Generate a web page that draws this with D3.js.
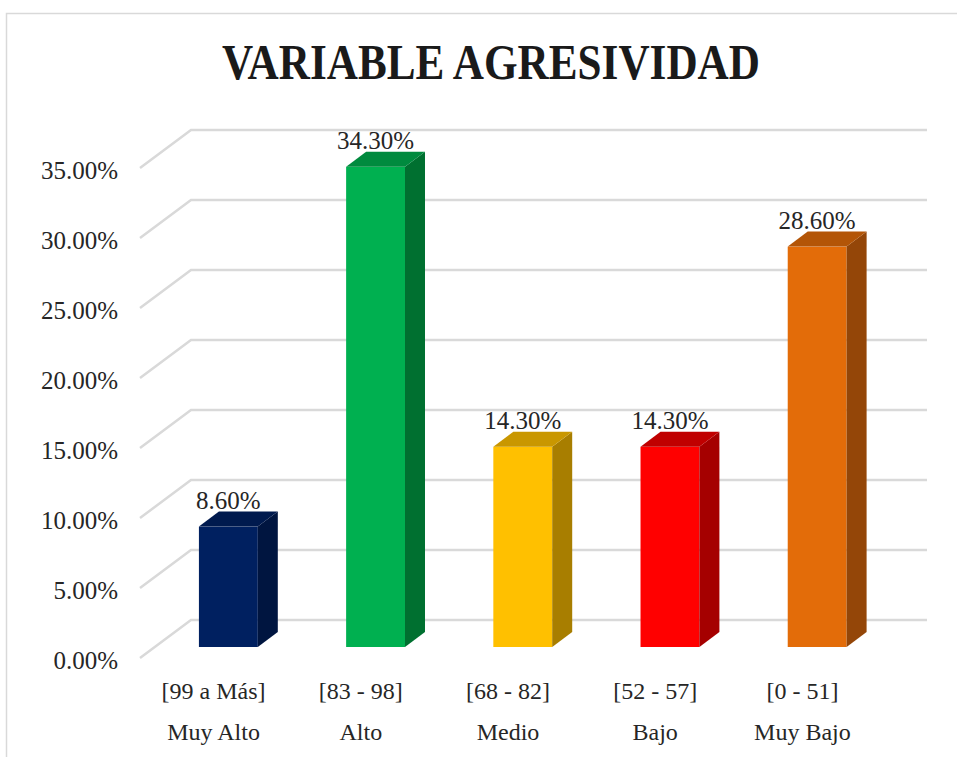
<!DOCTYPE html>
<html>
<head>
<meta charset="utf-8">
<script src="https://cdn.jsdelivr.net/npm/d3@7"></script>
<style>
  html, body { margin: 0; padding: 0; background: #fff; }
  svg { display: block; font-family: "Liberation Serif", "DejaVu Serif", serif; }
</style>
</head>
<body>
<svg id="chart" width="957" height="757"></svg>
<script>
// data
const ranges = ["[99 a Más]", "[83 - 98]", "[68 - 82]", "[52 - 57]", "[0 - 51]"];
const levels = ["Muy Alto", "Alto", "Medio", "Bajo", "Muy Bajo"];
const values = [0.086, 0.343, 0.143, 0.143, 0.286];
const yTicks = [0, 0.05, 0.10, 0.15, 0.20, 0.25, 0.30, 0.35];
const frontColors = ["#002060", "#00B050", "#FFC000", "#FF0000", "#E36C09"];
const topColors = ["#001A4E", "#008A3E", "#C99700", "#C00000", "#B35507"];
const sideColors = ["#001540", "#007030", "#A87E00", "#A50000", "#944608"];

// layout of the 3d box
const FRONT = { left: 140, right: 876, bottom: 658, top: 168 };
const WALL_DX = 51, WALL_DY = 38;   // depth of floor
const BAR_Z = 11;                   // bar front sits this far back (in y px)
const BAR_DX = 20, BAR_DY = 15;     // depth of each bar

const svg = d3.select("#chart");

// outer frame
svg.append("path")
  .attr("d", "M6.5,757 L6.5,13.5 L957,13.5")
  .attr("fill", "none")
  .attr("stroke", "#d9d9d9")
  .attr("stroke-width", 1.5);

const x = d3.scaleBand()
  .domain(d3.range(values.length))
  .range([FRONT.left, FRONT.right])
  .paddingInner(0)
  .paddingOuter(0);

const y = d3.scaleLinear()
  .domain([0, 0.35])
  .range([FRONT.bottom, FRONT.top]);

// title
svg.append("text")
  .attr("x", 491)
  .attr("y", 79)
  .attr("text-anchor", "middle")
  .attr("textLength", 538)
  .attr("lengthAdjust", "spacingAndGlyphs")
  .style("font-size", "50px")
  .style("font-weight", "bold")
  .style("fill", "#1a1a1a")
  .text("VARIABLE AGRESIVIDAD");

// gridlines: diagonal on the side wall + horizontal on the back wall
const grid = svg.append("g");
grid.selectAll("polyline")
  .data(yTicks)
  .join("polyline")
  .attr("points", d => [
    [FRONT.left, y(d)],
    [FRONT.left + WALL_DX, y(d) - WALL_DY],
    [FRONT.right + WALL_DX, y(d) - WALL_DY]
  ].map(p => p.join(",")).join(" "))
  .attr("fill", "none")
  .attr("stroke", "#d9d9d9")
  .attr("stroke-width", 2.5);

// y tick labels
svg.append("g").selectAll("text")
  .data(yTicks)
  .join("text")
  .attr("x", 118)
  .attr("y", d => y(d) + 11)
  .attr("text-anchor", "end")
  .style("font-size", "25px")
  .style("fill", "#262626")
  .text(d => d3.format(".2%")(d));

// bars
const barW = x.bandwidth() * 0.4;
const shiftX = BAR_Z * WALL_DX / WALL_DY;
const bars = svg.append("g").selectAll("g")
  .data(values)
  .join("g");

const x0 = (d, i) => x(i) + x.bandwidth() / 2 + shiftX - barW / 2;
const x1 = (d, i) => x0(d, i) + barW;
const yb = () => y(0) - BAR_Z;
const yt = d => y(d) - BAR_Z;

bars.append("rect")
  .attr("x", x0)
  .attr("y", yt)
  .attr("width", barW)
  .attr("height", d => yb() - yt(d))
  .attr("fill", (d, i) => frontColors[i]);

bars.append("polygon")
  .attr("points", (d, i) => [
    [x1(d, i), yt(d)],
    [x1(d, i) + BAR_DX, yt(d) - BAR_DY],
    [x1(d, i) + BAR_DX, yb() - BAR_DY],
    [x1(d, i), yb()]
  ].map(p => p.join(",")).join(" "))
  .attr("fill", (d, i) => sideColors[i]);

bars.append("polygon")
  .attr("points", (d, i) => [
    [x0(d, i), yt(d)],
    [x0(d, i) + BAR_DX, yt(d) - BAR_DY],
    [x1(d, i) + BAR_DX, yt(d) - BAR_DY],
    [x1(d, i), yt(d)]
  ].map(p => p.join(",")).join(" "))
  .attr("fill", (d, i) => topColors[i]);

// value labels
bars.append("text")
  .attr("x", (d, i) => x0(d, i) + barW / 2)
  .attr("y", d => yt(d) - BAR_DY - 3)
  .attr("text-anchor", "middle")
  .style("font-size", "25px")
  .style("fill", "#262626")
  .text(d => d3.format(".2%")(d));

// category labels (two rows)
const cats = svg.append("g").selectAll("g")
  .data(ranges)
  .join("g")
  .attr("transform", (d, i) => `translate(${x(i) + x.bandwidth() / 2},0)`);

cats.append("text")
  .attr("y", 699)
  .attr("text-anchor", "middle")
  .style("font-size", "24px")
  .style("fill", "#262626")
  .text(d => d);

cats.append("text")
  .attr("y", 740)
  .attr("text-anchor", "middle")
  .style("font-size", "24px")
  .style("fill", "#262626")
  .text((d, i) => levels[i]);
</script>
</body>
</html>
